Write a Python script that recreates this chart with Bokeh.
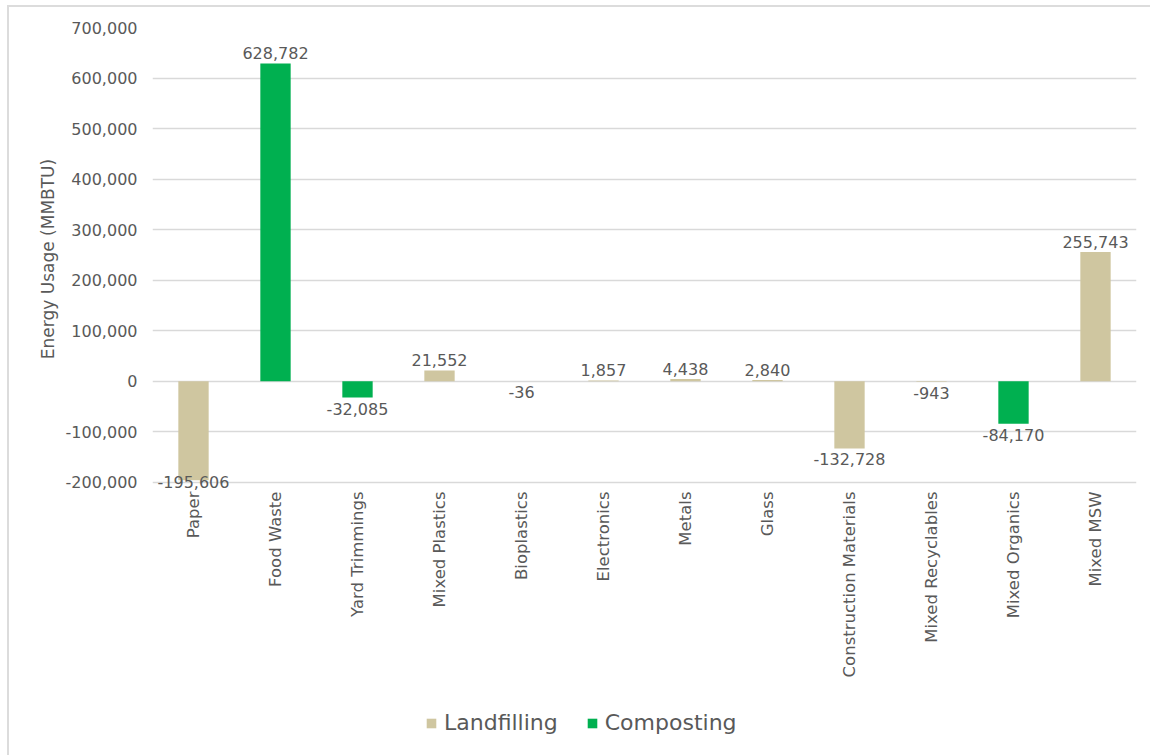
import numpy as np
from bokeh.plotting import figure
from bokeh.layouts import column
from bokeh.models import ColumnDataSource, Legend, LegendItem, NumeralTickFormatter, FixedTicker
from bokeh.embed import file_html
from bokeh.resources import INLINE

categories = ["Paper", "Food Waste", "Yard Trimmings", "Mixed Plastics", "Bioplastics",
              "Electronics", "Metals", "Glass", "Construction Materials",
              "Mixed Recyclables", "Mixed Organics", "Mixed MSW"]
values = [-195606, 628782, -32085, 21552, -36, 1857, 4438, 2840, -132728, -943, -84170, 255743]
series = ["Landfilling", "Composting", "Composting", "Landfilling", "Landfilling",
          "Landfilling", "Landfilling", "Landfilling", "Landfilling",
          "Landfilling", "Composting", "Landfilling"]
y_ticks = [-200000, -100000, 0, 100000, 200000, 300000, 400000, 500000, 600000, 700000]

colors = {"Landfilling": "#CFC6A0", "Composting": "#00B050"}
FONT = "DejaVu Sans"
GREY = "#595959"
YMIN, YMAX = -200000, 700000

v = np.array(values, dtype=float)
labels = [f"{int(x):,}" for x in values]
clamp = v < YMIN + 0.02 * (YMAX - YMIN)
lab_y = np.where(clamp, YMIN, v)
baseline = np.where(clamp, "middle", np.where(v >= 0, "bottom", "top")).tolist()
yoff = np.where(clamp, 0, np.where(v >= 0, -4, 5)).tolist()

p = figure(x_range=categories, y_range=(YMIN - 16000, YMAX), width=1141, height=698,
           output_backend="svg", toolbar_location=None,
           min_border_left=143, min_border_right=14, min_border_top=20,
           min_border_bottom=215)
p.outline_line_color = None
p.background_fill_color = "white"
p.border_fill_color = "white"

renderers = {}
for s in ["Landfilling", "Composting"]:
    idx = [i for i, ser in enumerate(series) if ser == s]
    src = ColumnDataSource(dict(x=[categories[i] for i in idx], top=[values[i] for i in idx]))
    renderers[s] = p.vbar(x="x", top="top", bottom=0, width=0.37, source=src,
                          fill_color=colors[s], line_color=None)

lsrc = ColumnDataSource(dict(x=categories, y=lab_y, text=labels, baseline=baseline, yoff=yoff))
p.text(x="x", y="y", text="text", source=lsrc, text_align="center",
       text_baseline="baseline", y_offset="yoff", text_font_size="16px",
       text_color=GREY, text_font={"value": FONT})

p.yaxis.ticker = FixedTicker(ticks=y_ticks)
p.yaxis.formatter = NumeralTickFormatter(format="0,0")
p.yaxis.axis_label = "Energy Usage (MMBTU)"
p.yaxis.axis_label_text_font = FONT
p.yaxis.axis_label_text_font_size = "17px"
p.yaxis.axis_label_text_font_style = "normal"
p.yaxis.axis_label_text_color = GREY
p.yaxis.axis_label_standoff = 5
p.yaxis.major_label_text_font = FONT
p.yaxis.major_label_text_font_size = "16px"
p.yaxis.major_label_text_color = GREY
p.yaxis.axis_line_color = None
p.yaxis.major_tick_line_color = None
p.yaxis.minor_tick_line_color = None
p.yaxis.major_tick_out = 0
p.yaxis.minor_tick_out = 0
p.yaxis.major_label_standoff = 15

p.xaxis.major_label_orientation = np.pi / 2
p.xaxis.major_label_text_font = FONT
p.xaxis.major_label_text_font_size = "16.5px"
p.xaxis.major_label_text_color = GREY
p.xaxis.axis_line_color = None
p.xaxis.major_tick_line_color = None
p.xaxis.minor_tick_line_color = None
p.xaxis.major_tick_out = 0
p.xaxis.minor_tick_out = 0
p.xaxis.major_label_standoff = 1

p.xgrid.grid_line_color = None
p.ygrid.grid_line_color = "#D9D9D9"
p.ygrid.grid_line_width = 1.5

# legend strip
lp = figure(width=1141, height=50, x_range=(0, 1), y_range=(0, 1),
            output_backend="svg", toolbar_location=None,
            x_axis_location=None, y_axis_location=None, min_border=0)
lp.outline_line_color = None
lp.xgrid.grid_line_color = None
lp.ygrid.grid_line_color = None
leg_r = {}
for s in ["Landfilling", "Composting"]:
    leg_r[s] = lp.vbar(x=[0.5], top=[0], bottom=0, width=0.0, fill_color=colors[s],
                       line_color=None)

legend = Legend(items=[LegendItem(label="Landfilling", renderers=[leg_r["Landfilling"]]),
                       LegendItem(label="Composting", renderers=[leg_r["Composting"]])],
                orientation="horizontal", location=(273, 20),
                label_text_font=FONT, label_text_font_size="22px", label_text_color=GREY,
                glyph_width=12, glyph_height=12, spacing=28, border_line_color=None,
                background_fill_alpha=0,
                label_standoff=7, margin=0, padding=4)
lp.add_layout(legend, "center")

layout = column(p, lp, spacing=0)
layout.margin = (5, 0, 0, 7)
layout.styles = {"border-top": "2px solid #DCDCDC", "border-left": "2px solid #DCDCDC",
                 "background-color": "white"}

open("out.html", "w").write(file_html(layout, INLINE))
